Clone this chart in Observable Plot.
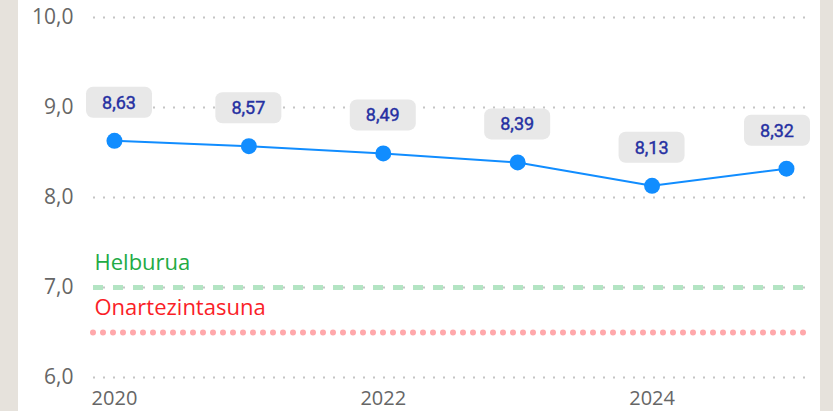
<!DOCTYPE html>
<html>
<head>
<meta charset="utf-8">
<script src="https://cdn.jsdelivr.net/npm/d3@7"></script>
<script src="https://cdn.jsdelivr.net/npm/@observablehq/plot@0.6"></script>
<style>
  html, body { margin: 0; padding: 0; background: #e6e2dc; overflow: hidden; }
  #panel { position: absolute; left: 18px; top: 0; width: 802px; height: 411px; background: #ffffff; }
</style>
</head>
<body>
<div id="panel"></div>
<script>
const years = [2020, 2021, 2022, 2023, 2024, 2025];
const values = [8.63, 8.57, 8.49, 8.39, 8.13, 8.32];
const yTicks = [6, 7, 8, 9, 10];
const xTicks = [2020, 2022, 2024];
const target = 7.0;        // Helburua
const acceptance = 6.5;    // Onartezintasuna
const targetLabel = "Helburua";
const acceptanceLabel = "Onartezintasuna";

const data = years.map((year, i) => ({year, value: values[i]}));
const fmt = v => v.toFixed(2).replace(".", ",");
const fmt1 = v => v.toFixed(1).replace(".", ",");

// data labels in rounded boxes, placed with the chart's own scales
function boxLabels(index, scales, vals, dims) {
  const g = d3.create("svg:g");
  const bw = 66, bh = 31, off = 38;
  const minX = dims.marginLeft - 7, maxX = dims.width - 10;
  for (const d of data) {
    let cx = scales.x(d.year);
    cx = Math.max(minX + bw / 2, Math.min(maxX - bw / 2, cx));
    const cy = scales.y(d.value) - off;
    g.append("rect")
      .attr("x", cx - bw / 2).attr("y", cy - bh / 2)
      .attr("width", bw).attr("height", bh)
      .attr("rx", 7).attr("fill", "#e8e8e8");
    g.append("text")
      .attr("x", cx).attr("y", cy)
      .attr("text-anchor", "middle").attr("dy", "0.36em")
      .attr("font-family", "Roboto").attr("font-weight", 400)
      .attr("font-size", 18).attr("fill", "#2530a2")
      .attr("stroke", "#2530a2").attr("stroke-width", 0.4)
      .text(fmt(d.value));
  }
  return g.node();
}

const chart = Plot.plot({
  width: 802,
  height: 411,
  marginLeft: 75,
  marginRight: 14,
  marginTop: 17,
  marginBottom: 34,
  style: {fontFamily: "Open Sans", background: "transparent", overflow: "visible"},
  x: {type: "linear", domain: [2019.844, 2025.149]},
  y: {domain: [6, 10]},
  marks: [
    Plot.gridY(yTicks, {stroke: "#c4c4c4", strokeOpacity: 1, strokeWidth: 2, strokeDasharray: "2,8"}),
    Plot.ruleY([target], {stroke: "#b3e4c3", strokeWidth: 5, strokeDasharray: "10,10"}),
    Plot.ruleY([acceptance], {stroke: "#ffa8ab", strokeWidth: 6, strokeDasharray: "0,10", strokeLinecap: "round"}),
    Plot.text([targetLabel], {frameAnchor: "left", y: () => target, text: d => d, dx: 1, dy: -25, textAnchor: "start", lineAnchor: "middle", fill: "#22ab45", fontSize: 22}),
    Plot.text([acceptanceLabel], {frameAnchor: "left", y: () => acceptance, text: d => d, dx: 1, dy: -25, textAnchor: "start", lineAnchor: "middle", fill: "#fa1e28", fontSize: 22}),
    Plot.axisY(yTicks, {tickSize: 0, tickPadding: 20, tickFormat: fmt1, fontSize: 21, fill: "#666", label: null}),
    Plot.axisX(xTicks, {tickSize: 0, tickPadding: 13, tickFormat: d => String(d), fontSize: 20, fill: "#666", label: null}),
    Plot.line(data, {x: "year", y: "value", stroke: "#118dff", strokeWidth: 2}),
    Plot.dot(data, {x: "year", y: "value", r: 8, fill: "#118dff", stroke: "none"}),
    boxLabels
  ]
});
document.getElementById("panel").appendChild(chart);
</script>
</body>
</html>
